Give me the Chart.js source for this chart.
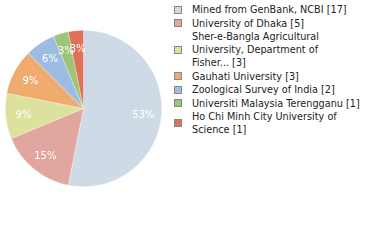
<!DOCTYPE html>
<html>
<head>
<meta charset="utf-8">
<script src="https://cdn.jsdelivr.net/npm/chart.js@4"></script>
<style>
    body { margin: 0; width: 380px; height: 240px; background: #fff; overflow: hidden; position: relative; }
    #pie-box { position: absolute; left: 5px; top: 29.5px; width: 157px; height: 157px; }
    #legend { position: absolute; left: 174px; top: 3px; width: 206px; font: 9.7px "DejaVu Sans", sans-serif; color: #222; }
    .item { display: flex; align-items: center; margin-bottom: 0.5px; }
    .box { width: 6px; height: 6px; border: 1px solid #888; flex: none; margin-right: 10px; }
    .txt { line-height: 13px; width: 185px; white-space: pre-line; }
</style>
</head>
<body>
<div id="pie-box"><canvas id="pie"></canvas></div>
<div id="legend"></div>
<script>
    // Werte aus dem Bild gelesen
    let labels = [
        "Mined from GenBank, NCBI",
        "University of Dhaka",
        "Sher-e-Bangla Agricultural\nUniversity, Department of\nFisher...",
        "Gauhati University",
        "Zoological Survey of India",
        "Universiti Malaysia Terengganu",
        "Ho Chi Minh City University of\nScience"
    ];
    let counts = [17, 5, 3, 3, 2, 1, 1];
    let colors = ["#cedbe7", "#e1a69e", "#dce29e", "#f0ab6f", "#9cbde1", "#9cc579", "#df7158"];

    let legend = document.getElementById("legend");
    for (let i = 0; i < labels.length; i++) {
        legend.insertAdjacentHTML("beforeend",
            '<div class="item"><div class="box" style="background:' + colors[i] + '"></div><div class="txt">' +
            labels[i] + ' [' + counts[i] + ']</div></div>');
    }

    let total = counts.reduce(function (a, b) { return a + b; }, 0);

    let percentLabels = {
        id: "percentLabels",
        afterDatasetsDraw: function (chart) {
            let ctx = chart.ctx;
            let meta = chart.getDatasetMeta(0);
            ctx.save();
            ctx.fillStyle = "#fff";
            ctx.font = '10px "DejaVu Sans"';
            ctx.textAlign = "center";
            ctx.textBaseline = "middle";
            meta.data.forEach(function (arc, i) {
                let mid = (arc.startAngle + arc.endAngle) / 2;
                let r = arc.outerRadius * 0.77;
                let x = arc.x + Math.cos(mid) * r;
                let y = arc.y + Math.sin(mid) * r + 1;
                // abgerundet wie im Original
                ctx.fillText(Math.floor(counts[i] / total * 100) + "%", x, y);
            });
            ctx.restore();
        }
    };

    new Chart(document.getElementById("pie"), {
        type: "pie",
        data: {
            labels: labels,
            datasets: [{
                data: counts,
                backgroundColor: colors,
                borderColor: "rgba(255,255,255,0.6)",
                borderWidth: 0.5
            }]
        },
        options: {
            responsive: true,
            maintainAspectRatio: false,
            animation: false,
            layout: { padding: 0 },
            plugins: { legend: { display: false }, tooltip: { enabled: false } }
        },
        plugins: [percentLabels]
    });
</script>
</body>
</html>
